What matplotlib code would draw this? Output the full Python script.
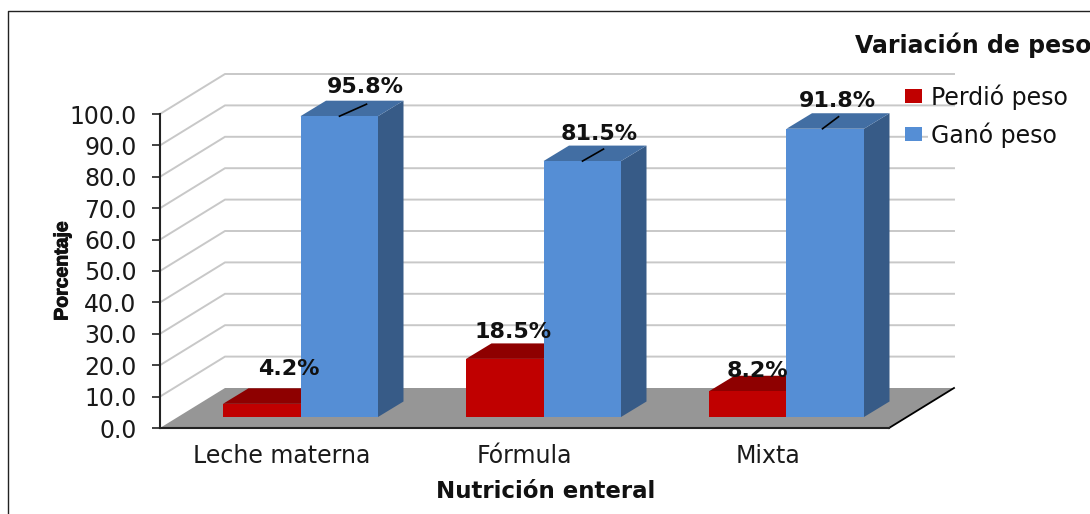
import matplotlib
matplotlib.use("Agg")
import matplotlib.pyplot as plt
import matplotlib.patheffects as pe
from matplotlib.lines import Line2D
from matplotlib.patches import Patch, Polygon, Rectangle

categories = ["Leche materna", "Fórmula", "Mixta"]
perdio = [4.2, 18.5, 8.2]
gano = [95.8, 81.5, 91.8]
series_names = ["Perdió peso", "Ganó peso"]
yticks = [0, 10, 20, 30, 40, 50, 60, 70, 80, 90, 100]

# escala de la figura: pixeles por categoria y por punto porcentual
PX_X = 243.0
PX_Y = 3.14
W, H = 1090, 514
Y0_PX = 428

# profundidad del piso y de las barras
WALL_DX, WALL_DY = 65 / PX_X, 40 / PX_Y
BAR_DX, BAR_DY = 25.5 / PX_X, 15.5 / PX_Y
BASE = 11 / PX_Y
BAR_START = 63 / PX_X
BAR_W = 77.5 / PX_X

# desplazamiento de cada etiqueta respecto al tope de su barra (px)
red_label_off = [(66, 35), (47, 27), (48, 20)]
blue_label_off = [(65, 29), (56, 27), (51, 28)]
leader_off = [(39, 27), (39, 21), (36, 16)]

RED, RED_TOP = "#C00000", "#8E0000"
BLUE, BLUE_TOP, BLUE_SIDE = "#558ED5", "#426EA3", "#375B87"
GRID = "#C8C8C8"
DARK = "#222222"

plt.rcParams["font.family"] = "DejaVu Sans"

fig = plt.figure(figsize=(W / 100, H / 100), dpi=100)
ax = fig.add_axes([0, 0, 1, 1])
ax.set_xlim(-160 / PX_X, (W - 160) / PX_X)
ax.set_ylim((Y0_PX - H) / PX_Y, Y0_PX / PX_Y)
ax.patch.set_visible(False)

# marco exterior
fig.add_artist(Line2D([8 / W, 8 / W, 1], [0, 1 - 11 / H, 1 - 11 / H], color="#222222", lw=1.0))

# paredes con lineas de cuadricula
n_cat = len(categories)
for t in yticks[1:]:
    ax.plot([0, WALL_DX, n_cat + WALL_DX], [t, t + WALL_DY, t + WALL_DY],
            color=GRID, lw=1.4, zorder=1, solid_joinstyle="miter")

# piso
ax.add_patch(Polygon([(0, 0), (WALL_DX, WALL_DY), (n_cat + WALL_DX, WALL_DY), (n_cat, 0)],
                     facecolor="#969696", edgecolor="none", zorder=2))
ax.plot([n_cat, n_cat + WALL_DX], [0, WALL_DY], color="black", lw=1.3, zorder=3)


def draw_bar(x, value, front, top, side):
    y1 = BASE + value
    ax.add_patch(Polygon([(x + BAR_W, BASE), (x + BAR_W + BAR_DX, BASE + BAR_DY),
                          (x + BAR_W + BAR_DX, y1 + BAR_DY), (x + BAR_W, y1)],
                         facecolor=side, edgecolor="none", zorder=4))
    ax.add_patch(Polygon([(x, y1), (x + BAR_DX, y1 + BAR_DY),
                          (x + BAR_W + BAR_DX, y1 + BAR_DY), (x + BAR_W, y1)],
                         facecolor=top, edgecolor="none", zorder=4))
    ax.add_patch(Rectangle((x, BASE), BAR_W, value, facecolor=front, edgecolor="none", zorder=4))


for i in range(n_cat):
    draw_bar(i + BAR_START, perdio[i], RED, RED_TOP, RED_TOP)
    draw_bar(i + BAR_START + BAR_W, gano[i], BLUE, BLUE_TOP, BLUE_SIDE)

# etiquetas de valor y sus lineas guia
for i in range(n_cat):
    y_red = BASE + perdio[i]
    ax.text(i + red_label_off[i][0] / PX_X + BAR_START, y_red + red_label_off[i][1] / PX_Y,
            f"{perdio[i]}%", fontsize=16, fontweight="bold", color="#111111",
            ha="center", va="center", zorder=6)
    x_blue = i + BAR_START + BAR_W
    y_blue = BASE + gano[i]
    ax.text(x_blue + blue_label_off[i][0] / PX_X, y_blue + blue_label_off[i][1] / PX_Y,
            f"{gano[i]}%", fontsize=16, fontweight="bold", color="#111111",
            ha="center", va="center", zorder=6)
    ax.plot([x_blue + leader_off[i][0] / PX_X, x_blue + (leader_off[i][0] + leader_off[i][1]) / PX_X],
            [y_blue, y_blue + 12 / PX_Y], color="black", lw=1.2, zorder=6)

# ejes
for name in ["top", "right"]:
    ax.spines[name].set_visible(False)
ax.spines["left"].set_position(("data", 0))
ax.spines["left"].set_bounds(0, 100)
ax.spines["bottom"].set_position(("data", 0))
ax.spines["bottom"].set_bounds(0, n_cat)
for name in ["left", "bottom"]:
    ax.spines[name].set_linewidth(1.5)
    ax.spines[name].set_color(DARK)
    ax.spines[name].set_zorder(5)

ax.set_yticks(yticks)
ax.set_yticklabels([f"{t:.1f}" for t in yticks])
ax.tick_params(axis="y", direction="out", length=6, width=1.2, color=DARK, pad=11,
               labelsize=17, labelcolor="#1a1a1a")
ax.set_xticks([i + 0.5 for i in range(n_cat)])
ax.set_xticklabels(categories)
ax.tick_params(axis="x", length=0, pad=11.5, labelsize=17, labelcolor="#1a1a1a")

# titulos de los ejes
ylabel = ax.text(-97 / PX_X, (Y0_PX - 271) / PX_Y, "Porcentaje", rotation=90, ha="center", va="center",
                 fontsize=14, fontweight="bold", color="#111111",
                 family=["Liberation Sans Narrow", "Liberation Sans"])
ylabel.set_path_effects([pe.withStroke(linewidth=0.7, foreground="#111111")])
fig.text(546 / W, 1 - 492 / H, "Nutrición enteral", ha="center", va="center",
         fontsize=16.5, fontweight="bold", color="#111111")

# leyenda
fig.text(855 / W, 1 - 45 / H, "Variación de peso", ha="left", va="center",
         fontsize=17, fontweight="bold", color="#111111")
# la linea de 80 se corta detras del texto de la leyenda
ax.add_patch(Rectangle((928 / PX_X - 160 / PX_X, (Y0_PX - 146) / PX_Y), 30 / PX_X, 18 / PX_Y,
                       facecolor="white", edgecolor="none", zorder=1.5))
handles = [Patch(facecolor=RED, edgecolor="none"), Patch(facecolor=BLUE, edgecolor="none")]
leg = ax.legend(handles, series_names, loc="upper left", frameon=False,
                bbox_to_anchor=(905 / W, 1 - 84 / H), bbox_transform=fig.transFigure,
                fontsize=17, handlelength=0.7, handleheight=0.55, handletextpad=0.4,
                labelspacing=0.53, borderpad=0, borderaxespad=0)
leg.set_zorder(7)
for txt in leg.get_texts():
    txt.set_color("#111111")

fig.savefig("out.png", dpi=100, facecolor="white")
